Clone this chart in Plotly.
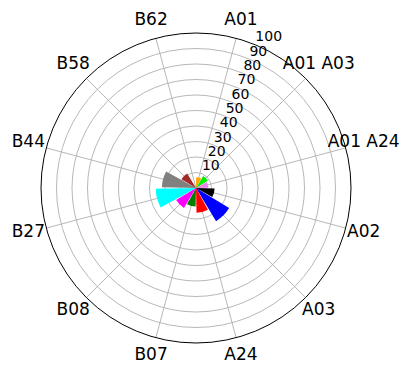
import plotly.graph_objects as go

# Categories, placed clockwise from the top
categories = ["A01", "A01 A03", "A01 A24", "A02", "A03", "A24",
              "B07", "B08", "B27", "B44", "B58", "B62"]
values = [7, 9, 8, 12, 25, 16, 12, 15, 26, 22, 11, 0]
colors = ["orange", "#00ee00", "violet", "black", "blue", "red",
          "green", "magenta", "cyan", "gray", "brown", "gold"]
radial_ticks = [10, 20, 30, 40, 50, 60, 70, 80, 90, 100]

n = len(categories)
step = 360 / n
angles = [step / 2 + i * step for i in range(n)]
r_max = 100
label_r = 112        # category labels sit just outside the rim
rlabel_angle = 22.5  # radial tick labels run along this bearing

W, H = 401, 366
cx, cy, rad = 196, 178, 155   # plot centre (px from left / bottom) and rim radius


def domain(radius):
    return dict(x=[(cx - radius) / W, (cx + radius) / W],
                y=[(cy - radius) / H, (cy + radius) / H])


fig = go.Figure()
fig.add_trace(go.Barpolar(
    r=values,
    theta=angles,
    width=[step * 0.92] * n,
    marker=dict(color=colors, line=dict(width=0)),
    opacity=1,
))

# Radial tick labels along a single spoke
fig.add_trace(go.Scatterpolar(
    r=radial_ticks,
    theta=[rlabel_angle] * len(radial_ticks),
    mode="text",
    text=[str(t) for t in radial_ticks],
    textposition="top right",
    textfont=dict(size=14, color="black", family="DejaVu Sans"),
    cliponaxis=False,
    hoverinfo="skip",
))

# Category labels on a concentric, invisible polar frame, centred on their bearing
fig.add_trace(go.Scatterpolar(
    r=[label_r] * n,
    theta=angles,
    mode="text",
    text=categories,
    textposition="middle center",
    textfont=dict(size=17, color="black", family="DejaVu Sans"),
    cliponaxis=False,
    hoverinfo="skip",
    subplot="polar2",
))

fig.update_layout(
    width=W, height=H,
    margin=dict(l=0, r=0, t=0, b=0),
    paper_bgcolor="white",
    showlegend=False,
    font=dict(family="DejaVu Sans", color="black"),
    polar=dict(
        domain=domain(rad),
        bgcolor="white",
        bargap=0,
        angularaxis=dict(
            direction="clockwise",
            rotation=90,
            tickmode="array",
            tickvals=angles,
            showticklabels=False,
            ticks="",
            showline=True,
            linecolor="black",
            linewidth=1,
            gridcolor="#b8b8b8",
            gridwidth=1,
            layer="above traces",
        ),
        radialaxis=dict(
            range=[0, r_max],
            tickvals=radial_ticks,
            showticklabels=False,
            showline=False,
            ticks="",
            gridcolor="#b8b8b8",
            gridwidth=1,
            layer="above traces",
        ),
    ),
    polar2=dict(
        domain=domain(rad * label_r / r_max),
        bgcolor="rgba(0,0,0,0)",
        angularaxis=dict(direction="clockwise", rotation=90, visible=False,
                         showgrid=False, showline=False),
        radialaxis=dict(range=[0, label_r], visible=False,
                        showgrid=False, showline=False),
    ),
)

fig.write_html("out.html")
